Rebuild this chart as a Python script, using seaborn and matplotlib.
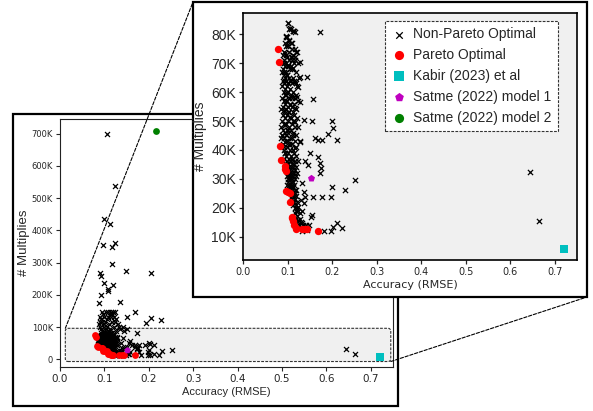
import matplotlib
matplotlib.use("Agg")
import matplotlib.pyplot as plt
import seaborn as sns
import numpy as np
import pandas as pd
from matplotlib.patches import Rectangle, FancyBboxPatch, ConnectionPatch
from matplotlib.ticker import FuncFormatter

# ---------------- data ----------------
# Non-Pareto optimal configurations (RMSE, multiplies)
non_pareto_rmse = [
    0.105, 0.123, 0.0985, 0.1135, 0.097, 0.124, 0.116, 0.116, 0.1496, 0.2045, 0.090, 0.0917,
    0.100, 0.120, 0.109, 0.107, 0.0917, 0.136, 0.088, 0.169, 0.150, 0.204, 0.228, 0.194,
    0.094, 0.104, 0.109, 0.114, 0.120, 0.124, 0.097, 0.112, 0.118, 0.090, 0.100, 0.108, 0.115,
    0.122, 0.093, 0.105, 0.126, 0.090, 0.095, 0.102, 0.117, 0.124, 0.088, 0.099, 0.111, 0.130,
    0.089, 0.098, 0.106, 0.121, 0.132, 0.142, 0.092, 0.103, 0.113, 0.150, 0.136, 0.095, 0.110,
    0.125, 0.144,
    0.102, 0.106, 0.113, 0.117, 0.173, 0.097, 0.104, 0.1095, 0.098, 0.121, 0.0945, 0.1095,
    0.117, 0.128, 0.091, 0.102, 0.113, 0.092, 0.098, 0.128, 0.143, 0.091, 0.106, 0.117, 0.102,
    0.1245, 0.158, 0.098, 0.1095, 0.121, 0.0945, 0.128, 0.106, 0.117, 0.091, 0.102, 0.138,
    0.1545, 0.1995, 0.203, 0.106, 0.117, 0.0945, 0.1245, 0.102, 0.087, 0.113, 0.1905, 0.162,
    0.1695, 0.177, 0.212, 0.0945, 0.128, 0.106, 0.117, 0.151, 0.0945, 0.1695, 0.139, 0.1095,
    0.1735, 0.145, 0.175, 0.102, 0.1735, 0.121, 0.106, 0.252, 0.132, 0.1995, 0.1095, 0.2295,
    0.138, 0.117, 0.157, 0.177, 0.198, 0.1395, 0.130, 0.1365, 0.1245, 0.132, 0.1545, 0.153,
    0.1245, 0.132, 0.149, 0.2108, 0.203, 0.222, 0.183, 0.198, 0.136, 0.143, 0.6437, 0.6639,
    0.101, 0.104, 0.108, 0.112, 0.115, 0.096, 0.099, 0.103, 0.094, 0.107, 0.097, 0.100, 0.111,
    0.117, 0.093, 0.104, 0.120, 0.090, 0.096, 0.113, 0.099, 0.108, 0.116, 0.092, 0.103, 0.110,
    0.088, 0.097, 0.114, 0.124, 0.094, 0.101, 0.107, 0.090, 0.105, 0.111, 0.087, 0.096, 0.119,
    0.092, 0.099, 0.094, 0.104, 0.112, 0.125, 0.089, 0.097, 0.108, 0.115, 0.093, 0.102, 0.110,
    0.118, 0.087, 0.099, 0.121, 0.095, 0.106, 0.091, 0.100, 0.113, 0.094, 0.097, 0.108, 0.120,
    0.088, 0.103, 0.111, 0.116, 0.092, 0.099, 0.123, 0.095, 0.106, 0.114, 0.089, 0.101, 0.110,
    0.086, 0.097, 0.118, 0.093, 0.104, 0.112, 0.090, 0.099, 0.115, 0.095, 0.108, 0.121, 0.088,
    0.101, 0.112, 0.114, 0.092, 0.097, 0.110, 0.086, 0.104, 0.117, 0.090, 0.099, 0.108, 0.094,
    0.102, 0.113, 0.088, 0.097, 0.119, 0.085, 0.092, 0.105, 0.111, 0.096, 0.100, 0.116, 0.128,
    0.089, 0.103, 0.109, 0.093, 0.098, 0.118, 0.091, 0.105, 0.112, 0.095, 0.101, 0.114, 0.097,
    0.108, 0.120, 0.093, 0.103, 0.111, 0.099, 0.106, 0.116, 0.123, 0.096, 0.102, 0.110, 0.114,
    0.100, 0.107, 0.112, 0.119, 0.098, 0.104, 0.109, 0.116, 0.101, 0.106, 0.111, 0.114, 0.099,
    0.103, 0.108, 0.113, 0.120, 0.100, 0.105, 0.110, 0.116, 0.102, 0.107, 0.112, 0.099, 0.104,
    0.109, 0.115, 0.103, 0.108, 0.113, 0.105, 0.110, 0.118, 0.107, 0.112, 0.116, 0.109, 0.114,
    0.120, 0.111, 0.117, 0.110, 0.115, 0.122, 0.113, 0.118, 0.116, 0.121, 0.118, 0.124, 0.117,
    0.127, 0.121, 0.120, 0.128, 0.123, 0.130, 0.126, 0.134, 0.141, 0.129, 0.138, 0.132,
]
non_pareto_mult = [
    700000, 537000, 435000, 419000, 355000, 361000, 349000, 295000, 275000, 269000, 268000, 258000,
    235000, 231000, 217000, 211000, 198000, 178000, 173000, 147000, 130000, 127000, 123000, 111000,
    147000, 147000, 147000, 147000, 147000, 147000, 140000, 140000, 140000, 132000, 132000, 132000, 132000,
    132000, 125000, 125000, 125000, 117000, 117000, 117000, 117000, 117000, 110000, 110000, 110000, 110000,
    101000, 101000, 101000, 101000, 101000, 101000, 94000, 94000, 94000, 94000, 94000, 89000, 89000,
    89000, 89000,
    83800, 82100, 81300, 80900, 80900, 79400, 77800, 77100, 76300, 74000, 73400, 72300,
    71100, 70500, 70000, 69400, 68200, 67100, 65900, 65400, 65400, 64200, 64200, 63600, 63000,
    61900, 57500, 59600, 58700, 58200, 57300, 56700, 55500, 54400, 53800, 53200, 50400,
    50000, 50000, 47500, 51500, 49800, 48600, 48000, 46900, 45200, 45200, 45500, 44300,
    43400, 43400, 43400, 42900, 42900, 41800, 40600, 39100, 38800, 37700, 36000, 36500,
    35400, 34800, 33600, 33600, 32100, 31900, 30800, 29600, 28400, 27200, 27200, 26100,
    25600, 26100, 23800, 23800, 23800, 23800, 22700, 21500, 20400, 18700, 17500, 16900,
    15800, 14600, 14000, 14800, 13400, 12900, 12000, 12000, 13400, 12300, 32200, 15500,
    84000, 82000, 82000, 81000, 81000, 79000, 79000, 78000, 77000, 77000, 76000, 76000, 75000,
    75000, 74000, 74000, 74000, 73000, 73000, 73000, 72000, 72000, 72000, 71000, 71000, 71000,
    70000, 70000, 70000, 70000, 69000, 69000, 69000, 68000, 68000, 68000, 67000, 67000, 67000,
    66000, 66000, 65000, 65000, 65000, 65000, 64000, 64000, 64000, 64000, 63000, 63000, 63000,
    63000, 62000, 62000, 62000, 61000, 61000, 60000, 60000, 60000, 59000, 59000, 59000, 59000,
    58000, 58000, 58000, 58000, 57000, 57000, 57000, 56000, 56000, 56000, 55000, 55000, 55000,
    54000, 54000, 54000, 53000, 53000, 53000, 52000, 52000, 52000, 51000, 51000, 51000, 50000,
    50000, 50000, 50000, 49000, 49000, 49000, 48000, 48000, 48000, 47000, 47000, 47000, 46000,
    46000, 46000, 45000, 45000, 45000, 44000, 44000, 44000, 44000, 43000, 43000, 43000, 43000,
    42000, 42000, 42000, 41000, 41000, 41000, 40000, 40000, 40000, 39000, 39000, 39000, 38000,
    38000, 38000, 37000, 37000, 37000, 36000, 36000, 36000, 36000, 35000, 35000, 35000, 35000,
    34000, 34000, 34000, 34000, 33000, 33000, 33000, 33000, 32000, 32000, 32000, 32000, 31000,
    31000, 31000, 31000, 31000, 30000, 30000, 30000, 30000, 29000, 29000, 29000, 28000, 28000,
    28000, 28000, 27000, 27000, 27000, 26000, 26000, 26000, 25000, 25000, 25000, 24000, 24000,
    24000, 23000, 23000, 22000, 22000, 22000, 21000, 21000, 20000, 20000, 19000, 19000, 18000,
    18000, 17000, 16000, 16000, 15000, 15000, 14000, 14000, 14000, 13000, 13000, 12000,
]

pareto_rmse = [0.0788, 0.081, 0.0825, 0.0855, 0.094, 0.095, 0.097, 0.0975, 0.102, 0.105, 0.1065,
               0.109, 0.111, 0.113, 0.1155, 0.118, 0.120, 0.133, 0.139, 0.144, 0.1695]
pareto_mult = [74800, 70400, 41500, 36600, 34500, 33400, 32800, 25800, 25300, 25000, 21900,
               16900, 16300, 15500, 14000, 13100, 12500, 12500, 12500, 12500, 11900]

kabir_rmse = [0.7208]
kabir_mult = [5600]
satme1_rmse = [0.152]
satme1_mult = [30200]
satme2_rmse = [0.2167]
satme2_mult = [707700]

main_xticks = [0.0, 0.1, 0.2, 0.3, 0.4, 0.5, 0.6, 0.7]
main_yticks = [0, 100000, 200000, 300000, 400000, 500000, 600000, 700000]
inset_yticks = [10000, 20000, 30000, 40000, 50000, 60000, 70000, 80000]

# ---------------- figure ----------------
sns.set_theme(style="ticks")
plt.rcParams['font.family'] = ['DejaVu Sans']
W, H = 593, 411
fig = plt.figure(figsize=(W / 100, H / 100), dpi=100)
fig.patch.set_facecolor("white")

def px(x0, y0, x1, y1):
    return [x0 / W, 1 - y1 / H, (x1 - x0) / W, (y1 - y0) / H]

kfmt = FuncFormatter(lambda v, p: "0" if v == 0 else f"{int(round(v / 1000))}K")

# outer frame of main plot
fig.patches.append(Rectangle((13 / W, 1 - 406 / H), (398 - 13) / W, (406 - 114) / H,
                             transform=fig.transFigure, fill=False, edgecolor="black",
                             linewidth=1.6, zorder=0))

ax = fig.add_axes(px(60, 119, 393, 367))
ax.set_facecolor("white")

RED, CYAN, MAG, GREEN = "#ff0000", "#00bfbf", "#bf00bf", "#008000"

def draw(a, s_x, lw_x, s_dot, s_sq):
    sns.scatterplot(x=non_pareto_rmse, y=non_pareto_mult, ax=a, marker="x", color="black",
                    s=s_x, linewidth=lw_x, zorder=3, label="Non-Pareto Optimal")
    sns.scatterplot(x=pareto_rmse, y=pareto_mult, ax=a, marker="o", color=RED,
                    s=s_dot, linewidth=0, zorder=4, label="Pareto Optimal")
    sns.scatterplot(x=kabir_rmse, y=kabir_mult, ax=a, marker="s", color=CYAN,
                    s=s_sq, linewidth=0, zorder=4, label="Kabir (2023) et al")
    sns.scatterplot(x=satme1_rmse, y=satme1_mult, ax=a, marker="p", color=MAG,
                    s=s_dot, linewidth=0, zorder=4, label="Satme (2022) model 1")
    sns.scatterplot(x=satme2_rmse, y=satme2_mult, ax=a, marker="o", color=GREEN,
                    s=s_dot, linewidth=0, zorder=4, label="Satme (2022) model 2")

draw(ax, 13, 0.9, 24, 26)
ax.legend_.remove()
ax.set_xlim(0.0, 0.75)
ax.set_ylim(-24000, 745000)
ax.set_xticks(main_xticks)
ax.set_yticks(main_yticks)
ax.yaxis.set_major_formatter(kfmt)
ax.tick_params(axis="x", labelsize=7.5, length=3, width=0.8, pad=2)
ax.tick_params(axis="y", labelsize=6, length=3, width=0.8, pad=2)
for sp in ax.spines.values():
    sp.set_linewidth(0.8)
    sp.set_color("#222222")
ax.set_xlabel("Accuracy (RMSE)", fontsize=8, family=["Liberation Sans"], labelpad=2)
ax.set_ylabel("# Multiplies", fontsize=9.5, family=["Liberation Sans"], labelpad=1)

# zoom region box in main plot
zx0, zx1, zy0, zy1 = 0.012, 0.745, -7000, 96000
box = FancyBboxPatch((zx0, zy0), zx1 - zx0, zy1 - zy0,
                     boxstyle="round,pad=0,rounding_size=0.006",
                     mutation_aspect=1.37e6, facecolor="#f0f0f0", edgecolor="#333333",
                     linestyle=(0, (2.5, 1.2)), linewidth=0.8, zorder=1)
ax.add_patch(box)

# inset outer frame
ib = (193, 2, 587, 297)
fig.patches.append(Rectangle((ib[0] / W, 1 - ib[3] / H), (ib[2] - ib[0]) / W, (ib[3] - ib[1]) / H,
                             transform=fig.transFigure, facecolor="white", edgecolor="black",
                             linewidth=1.6, zorder=5))

# connector lines
for (dx, dy), (fx, fy) in [((zx0, zy1), (ib[0] / W, 1 - ib[1] / H)),
                           ((zx1, zy0), (ib[2] / W, 1 - ib[3] / H))]:
    con = ConnectionPatch(xyA=(dx, dy), coordsA="data", axesA=ax,
                          xyB=(fx, fy), coordsB=fig.transFigure,
                          linestyle=(0, (3, 1.5)), color="black", linewidth=0.8, zorder=4)
    fig.add_artist(con)

ins = fig.add_axes(px(243, 13, 577, 260))
ins.set_zorder(10)
ins.set_facecolor("#f0f0f0")
draw(ins, 14, 0.9, 28, 30)
ins.set_xlim(0.0, 0.75)
ins.set_ylim(1900, 87400)
ins.set_xticks(main_xticks)
ins.set_yticks(inset_yticks)
ins.yaxis.set_major_formatter(kfmt)
ins.tick_params(axis="x", labelsize=7, length=3, width=0.9, pad=2)
ins.tick_params(axis="y", labelsize=10, length=3, width=0.9, pad=2)
for lab in ins.get_yticklabels():
    lab.set_family(["Liberation Sans"])
for sp in ins.spines.values():
    sp.set_linewidth(1.2)
    sp.set_color("black")
ins.set_xlabel("Accuracy (RMSE)", fontsize=8, labelpad=2)
ins.set_ylabel("# Multiplies", fontsize=10, family=["Liberation Sans"], labelpad=3)

leg = ins.legend(loc="upper right", bbox_to_anchor=(0.943, 0.968), borderaxespad=0,
                 prop={"family": "Liberation Sans", "size": 10}, frameon=True,
                 fancybox=False, handletextpad=0.4, borderpad=0.45, markerscale=1.25,
                 handlelength=1.2)
fr = leg.get_frame()
fr.set_linestyle((0, (2.5, 1.2)))
fr.set_edgecolor("#333333")
fr.set_linewidth(0.8)
fr.set_facecolor("white")
fr.set_alpha(1)

fig.savefig("out.png", dpi=100, facecolor="white")
